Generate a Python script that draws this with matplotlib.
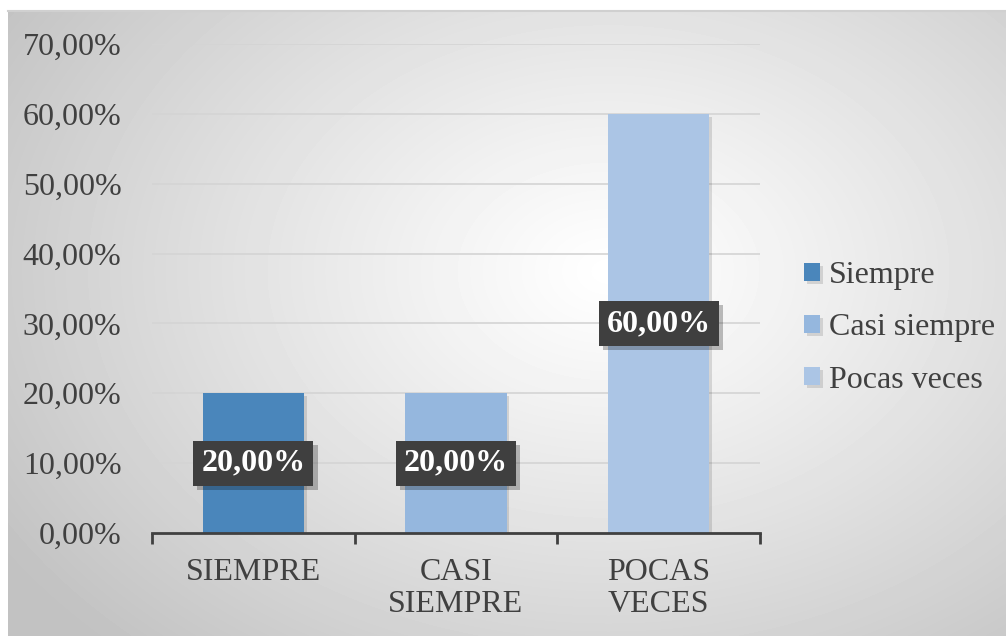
import numpy as np
import matplotlib
matplotlib.use("Agg")
import matplotlib.pyplot as plt
import matplotlib.patheffects as pe
from matplotlib.ticker import FuncFormatter, FixedLocator

plt.rcParams['font.family'] = ['Liberation Serif', 'DejaVu Serif']

categories = ["SIEMPRE", "CASI\nSIEMPRE", "POCAS\nVECES"]
series_names = ["Siempre", "Casi siempre", "Pocas veces"]
values = [20.0, 20.0, 60.0]
bar_colors = ["#4a86bb", "#95b7de", "#abc5e5"]
y_ticks = [0, 10, 20, 30, 40, 50, 60, 70]

text_color = "#404040"
fs = 23
W, H = 1006, 636
fig = plt.figure(figsize=(W / 100, H / 100), dpi=100)

# radial gradient background (chart area frame)
bg = fig.add_axes([8 / W, 0, 1 - 8 / W, 1 - 11 / H], zorder=-10)
yy, xx = np.mgrid[0:625, 0:998]
cx, cy = 600, 260
d = np.sqrt(((xx - cx) / 720.0) ** 2 + ((yy - cy) / 520.0) ** 2)
d = np.clip(d, 0, 1)
shade = 1.0 - 0.24 * d ** 1.1
bg.imshow(shade, cmap="gray", vmin=0, vmax=1, aspect="auto", interpolation="bilinear")
bg.set_axis_off()
fig.add_artist(plt.Line2D([8 / W, 1], [1 - 11 / H, 1 - 11 / H], color="#d0d0d0", lw=1.5))

ax = fig.add_axes([152 / W, 1 - 533 / H, (760 - 152) / W, (533 - 44) / H])
ax.patch.set_alpha(0)

shadow = [pe.withSimplePatchShadow(offset=(3, -3), shadow_rgbFace="black", alpha=0.25), pe.Normal()]
for i, (name, v, c) in enumerate(zip(series_names, values, bar_colors)):
    b = ax.bar(i, v, width=0.5, color=c, label=name, zorder=3)
    for p in b:
        p.set_path_effects([pe.withSimplePatchShadow(offset=(2, -2), shadow_rgbFace="black", alpha=0.12), pe.Normal()])
    t = ax.text(i, v / 2, f"{v:.2f}%".replace(".", ","), ha="center", va="center",
                fontsize=fs, fontweight="bold", color="white", zorder=5,
                bbox=dict(boxstyle="square,pad=0.25", facecolor="#3f3f3f", edgecolor="none"))
    t.get_bbox_patch().set_path_effects(shadow)

ax.set_xlim(-0.5, 2.5)
ax.set_ylim(0, 70)
ax.set_yticks(y_ticks)
ax.yaxis.set_major_formatter(FuncFormatter(lambda v, p: f"{v:.2f}%".replace(".", ",")))
ax.yaxis.grid(True, color="#d4d4d4", lw=1.2, zorder=0)
ax.set_axisbelow(True)

ax.set_xticks(range(len(categories)))
ax.set_xticklabels(categories, linespacing=1.15)
ax.xaxis.set_minor_locator(FixedLocator([-0.5, 0.5, 1.5, 2.5]))
ax.tick_params(axis="x", which="major", length=0, pad=18, labelsize=fs, labelcolor=text_color)
ax.tick_params(axis="x", which="minor", length=8, width=2, color="#404040", direction="out")
ax.tick_params(axis="y", length=0, pad=22, labelsize=fs, labelcolor=text_color)
for s in ["top", "right", "left"]:
    ax.spines[s].set_visible(False)
ax.spines["bottom"].set_color("#404040")
ax.spines["bottom"].set_linewidth(2)
ax.spines["bottom"].set_zorder(4)

fig.legend(loc="center left", bbox_to_anchor=(791 / W, 1 - 328 / H), frameon=False,
           fontsize=fs, handlelength=0.5, handleheight=0.5, handletextpad=0.3,
           labelspacing=0.72, labelcolor=text_color, borderaxespad=0)

fig.savefig("out.png", dpi=100)
